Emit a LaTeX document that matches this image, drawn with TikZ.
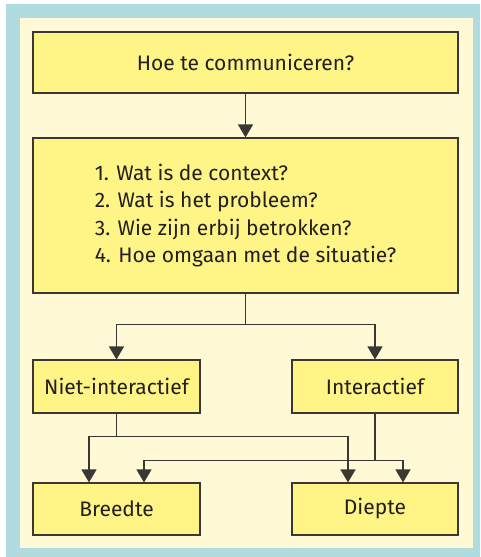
\documentclass[tikz,border=0pt]{standalone}
\usepackage{fontspec}
\setmainfont{Fira Sans}
\usetikzlibrary{arrows.meta}
\definecolor{framecol}{HTML}{B0DCE0}
\definecolor{panelcol}{HTML}{FFF9D5}
\definecolor{boxcol}{HTML}{FFF486}
\definecolor{linecol}{HTML}{3A3835}
\definecolor{inkcol}{HTML}{231F20}
\begin{document}
\begin{tikzpicture}[x=1pt,y=-1pt,
  box/.style={draw=linecol, line width=1.1pt, fill=boxcol, inner sep=0pt,
    text=inkcol, font=\fontsize{21}{27.5}\selectfont},
  link/.style={draw=linecol, line width=1.1pt},
  arr/.style={link, -{Triangle[length=13pt,width=15pt]}}]
\useasboundingbox (0,0) rectangle (480,557);
% frame and panel
\fill[white] (0,0) rectangle (480,557);
\fill[framecol] (6,4) rectangle (480,557);
\fill[panelcol] (20,18) rectangle (473,548);
% boxes
\node[box, minimum width=425pt, minimum height=61pt] (q) at (245.5,62.5) {Hoe te communiceren?};
\node[box, minimum width=425pt, minimum height=155pt, align=left] (list) at (245.5,215.5)
  {1. Wat is de context?\\2. Wat is het probleem?\\3. Wie zijn erbij betrokken?\\4. Hoe omgaan met de situatie?};
\node[box, minimum width=167pt, minimum height=53pt] (niet) at (116.5,386.5) {Niet-interactief};
\node[box, minimum width=166pt, minimum height=53pt] (inter) at (375,386.5) {Interactief};
\node[box, minimum width=167pt, minimum height=52pt] (breed) at (116.5,509) {Breedte};
\node[box, minimum width=166pt, minimum height=52pt] (diep) at (375,509) {Diepte};
% connectors
\draw[arr] (q.south) -- (list.north);
\coordinate (s1) at ([yshift=-31pt]list.south);
\draw[link] (list.south) -- (s1);
\draw[arr] (s1) -| (niet.north);
\draw[arr] (s1) -| (inter.north);
\coordinate (n1) at ([yshift=-23pt]niet.south);
\draw[link] (niet.south) -- (n1);
\draw[arr] (n1) -| ([xshift=-27.5pt]breed.north);
\draw[arr] (n1) -| ([xshift=-27pt]diep.north);
\coordinate (i1) at ([yshift=-47pt]inter.south);
\draw[link] (inter.south) -- (i1);
\draw[arr] (i1) -| ([xshift=27.5pt]breed.north);
\draw[arr] (i1) -| ([xshift=28pt]diep.north);
\end{tikzpicture}
\end{document}
